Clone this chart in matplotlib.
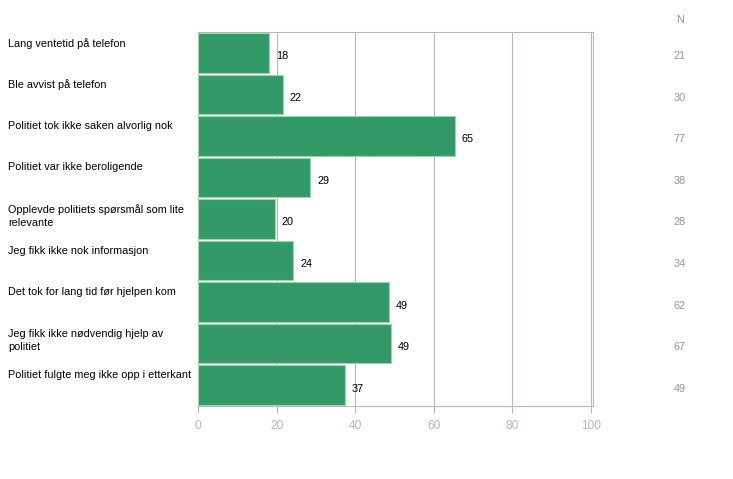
import matplotlib
matplotlib.use("Agg")
import matplotlib.pyplot as plt
import matplotlib.transforms as mtransforms

categories = [
    "Lang ventetid på telefon",
    "Ble avvist på telefon",
    "Politiet tok ikke saken alvorlig nok",
    "Politiet var ikke beroligende",
    "Opplevde politiets spørsmål som lite\nrelevante",
    "Jeg fikk ikke nok informasjon",
    "Det tok for lang tid før hjelpen kom",
    "Jeg fikk ikke nødvendig hjelp av\npolitiet",
    "Politiet fulgte meg ikke opp i etterkant",
]
values = [18.1, 21.5, 65.4, 28.6, 19.6, 24.2, 48.6, 49.1, 37.4]
value_labels = ["18", "22", "65", "29", "20", "24", "49", "49", "37"]
n_values = ["21", "30", "77", "38", "28", "34", "62", "67", "49"]
xticks = [0, 20, 40, 60, 80, 100]

plt.rcParams['font.family'] = ['Liberation Sans', 'DejaVu Sans']

W, H = 733, 479
fig = plt.figure(figsize=(W / 100, H / 100), dpi=100)
ax = fig.add_axes([198 / W, 1 - 406 / H, (593 - 198) / W, (406 - 32) / H])

bar_color = "#339966"
grid_color = "#b4b8c2"
fs = 7.8
y = list(range(len(categories)))
ax.barh(y, values, height=0.95, color=bar_color, edgecolor="#9fd3b5", linewidth=0.8, zorder=3)
ax.set_xlim(0, 100.5)
ax.set_ylim(len(categories) - 0.5, -0.5)

ax.set_xticks(xticks)
ax.set_xticklabels([str(t) for t in xticks])
ax.set_yticks([])
ax.tick_params(axis='x', direction='out', length=5, color=grid_color,
               labelcolor="#b0b8c6", labelsize=8.6, pad=5)
ax.grid(axis='x', color=grid_color, linewidth=0.8, zorder=0)
for s in ax.spines.values():
    s.set_color(grid_color)
    s.set_linewidth(0.8)

# value labels
for i, (v, lab) in enumerate(zip(values, value_labels)):
    ax.annotate(lab, xy=(v, i), xytext=(5, -2.5), textcoords='offset points',
                ha='left', va='center', fontsize=fs, color='black', zorder=4)

# category labels and N column
trans_fig_data = mtransforms.blended_transform_factory(fig.transFigure, ax.transData)
for i, cat in enumerate(categories):
    ax.annotate(cat, xy=(8 / W, i - 0.5), xycoords=trans_fig_data,
                xytext=(0, -4.2), textcoords='offset points',
                ha='left', va='top', fontsize=fs, color='black',
                linespacing=1.35, annotation_clip=False)
    ax.annotate(n_values[i], xy=(680 / W, i), xycoords=trans_fig_data,
                xytext=(0, -2.5), textcoords='offset points',
                ha='center', va='center', fontsize=fs, color='#959595',
                annotation_clip=False)

fig.text(680 / W, 1 - 20 / H, "N", ha='center', va='center', fontsize=fs, color='#959595')

fig.savefig("out.png", dpi=100)
